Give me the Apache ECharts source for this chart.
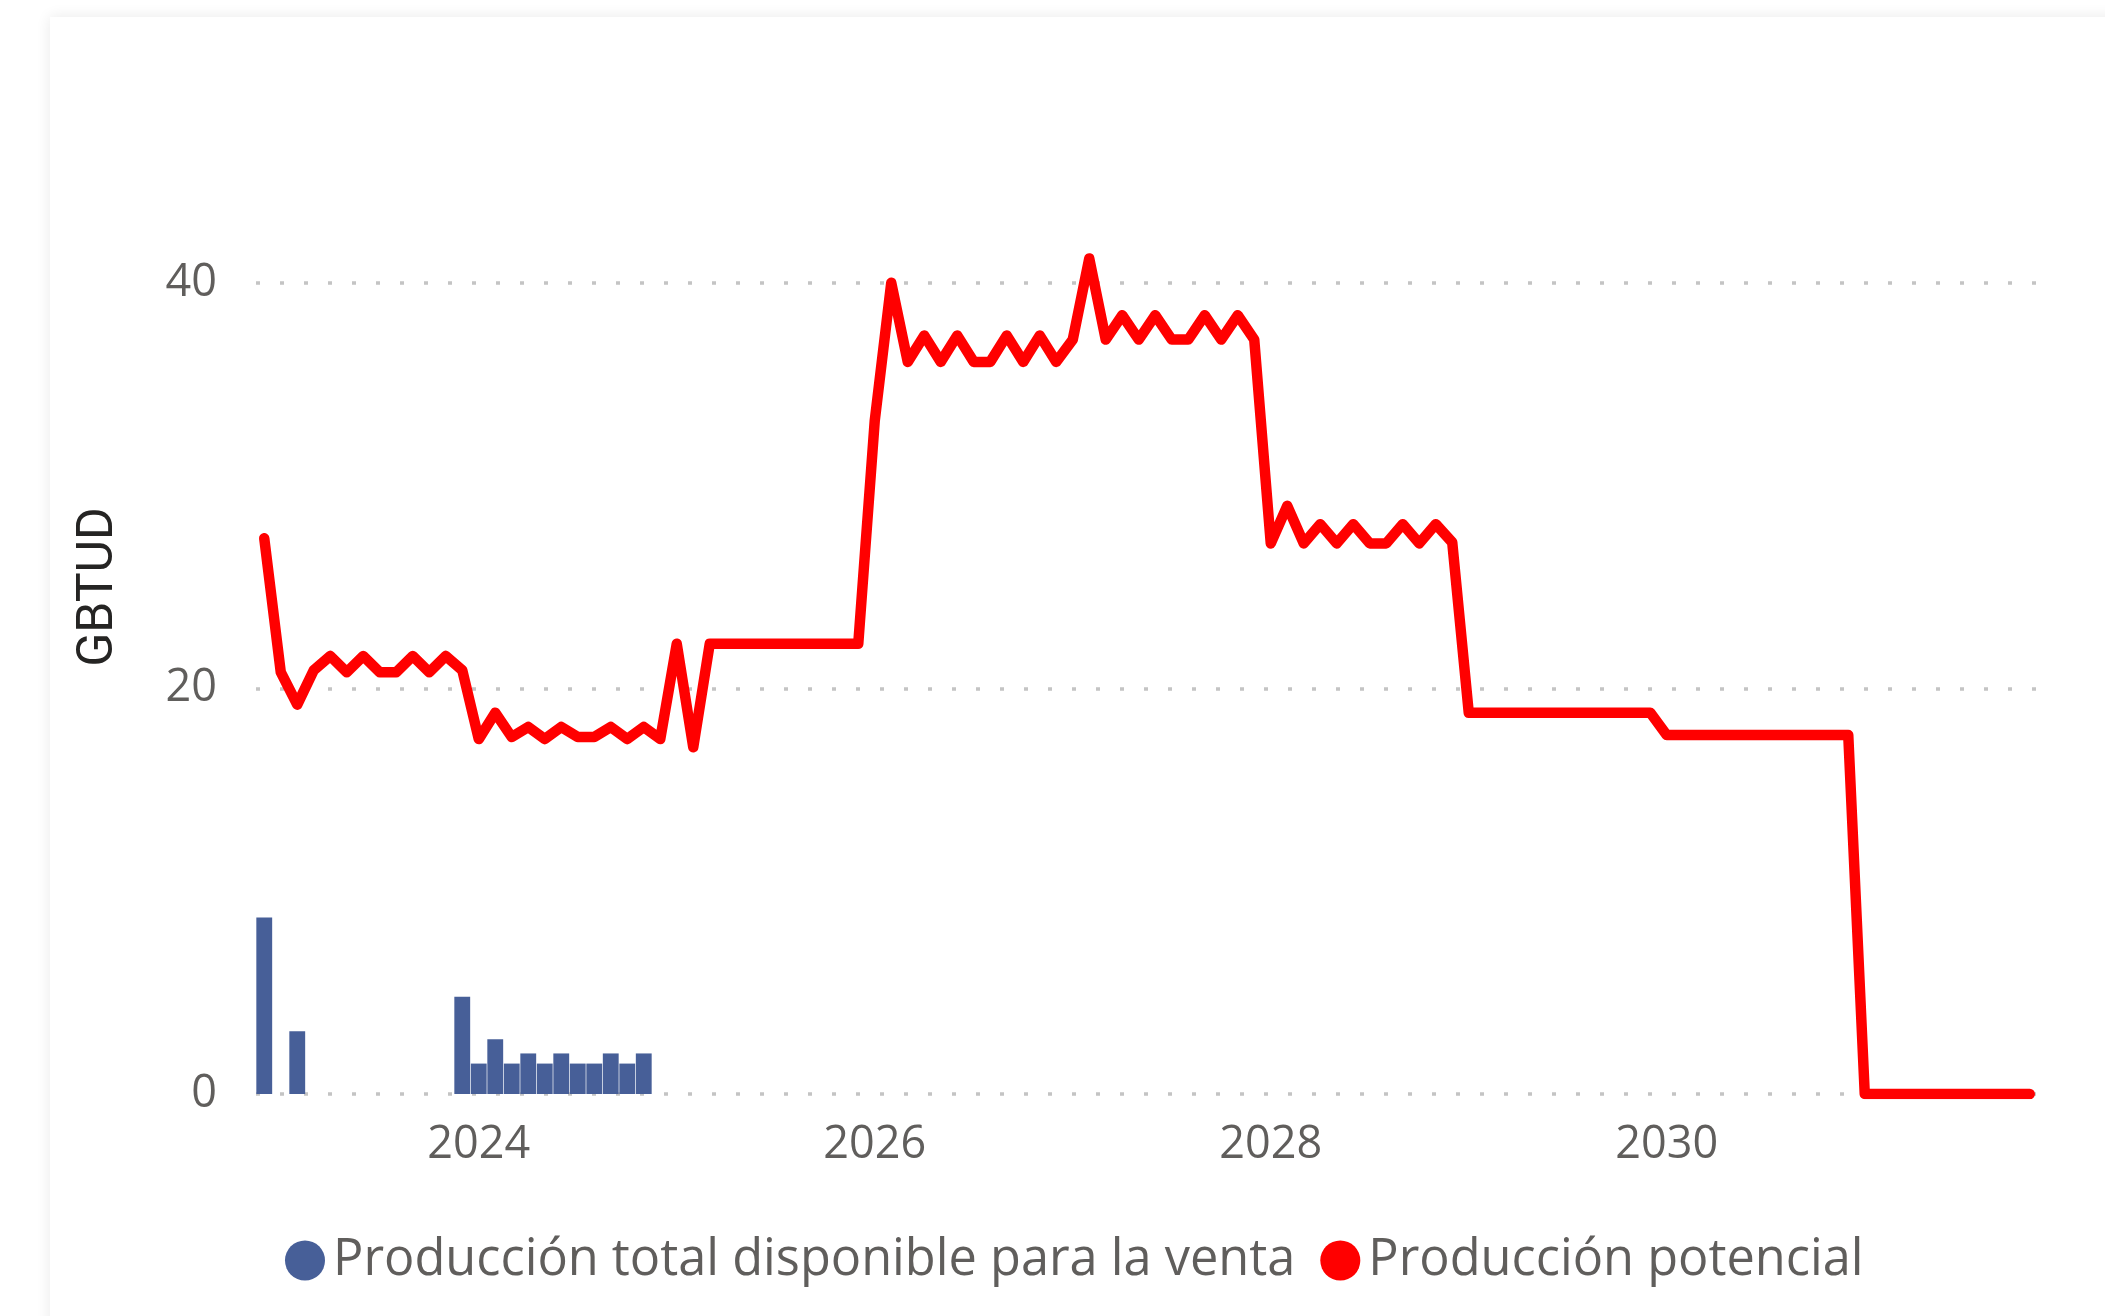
<!DOCTYPE html>
<html>
<head>
<meta charset="utf-8">
<title>Producción potencial</title>
<script src="https://cdn.jsdelivr.net/npm/echarts@6/dist/echarts.min.js"></script>
<style>
  html, body { margin: 0; padding: 0; width: 2105px; height: 1316px; background: #ffffff; overflow: hidden; }
  #card { position: absolute; left: 50px; top: 17px; width: 2080px; height: 1320px; background: #ffffff;
          box-shadow: 0 0 14px rgba(0,0,0,0.09); }
  #chart { position: absolute; left: 0; top: 0; width: 2105px; height: 1316px; }
</style>
</head>
<body>
<div id="card"></div>
<div id="chart"></div>
<script>
// Monthly series, Dec 2022 .. Nov 2031 (GBTUD)
const startYear = 2022, startMonth = 12, monthCount = 108;
const yearTicks = ['2024', '2026', '2028', '2030'];
const yTickLabels = [0, 20, 40];

// Producción potencial, one value per month
const potencial = [
  27.4, 20.8, 19.2, 20.9, 21.6, 20.8, 21.6, 20.8, 20.8, 21.6, 20.8, 21.6, 20.9,
  17.5, 18.8, 17.6, 18.1, 17.5, 18.1, 17.6, 17.6, 18.1, 17.5, 18.1, 17.5,
  22.2, 17.1, 22.2, 22.2, 22.2, 22.2, 22.2, 22.2, 22.2, 22.2, 22.2, 22.2,
  33.2, 40.0, 36.1, 37.4, 36.1, 37.4, 36.1, 36.1, 37.4, 36.1, 37.4, 36.1,
  37.2, 41.2, 37.2, 38.4, 37.2, 38.4, 37.2, 37.2, 38.4, 37.2, 38.4, 37.2,
  27.15, 29.0, 27.15, 28.1, 27.15, 28.1, 27.15, 27.15, 28.1, 27.15, 28.1, 27.2,
  18.8, 18.8, 18.8, 18.8, 18.8, 18.8, 18.8, 18.8, 18.8, 18.8, 18.8, 18.8,
  17.7, 17.7, 17.7, 17.7, 17.7, 17.7, 17.7, 17.7, 17.7, 17.7, 17.7, 17.7,
  0, 0, 0, 0, 0, 0, 0, 0, 0, 0, 0
];

// Producción total disponible para la venta, Dec 2022 .. Nov 2024
const ventaTotal = [
  8.7, null, 3.1, null, null, null, null, null, null, null, null, null,
  4.8, 1.5, 2.7, 1.5, 2.0, 1.5, 2.0, 1.5, 1.5, 2.0, 1.5, 2.0
];

const seriesNames = ['Producción total disponible para la venta', 'Producción potencial'];

// month categories "YYYY-MM"
const months = [];
for (let i = 0; i < monthCount; i++) {
  const m0 = startMonth - 1 + i;
  const y = startYear + Math.floor(m0 / 12);
  const m = (m0 % 12) + 1;
  months.push(y + '-' + (m < 10 ? '0' + m : m));
}
const ventaData = months.map((_, i) => (i < ventaTotal.length ? ventaTotal[i] : null));

const gray = '#605e5c';
const font = '"Segoe UI", "Open Sans", sans-serif';

const chart = echarts.init(document.getElementById('chart'), null, { renderer: 'canvas' });
chart.setOption({
  animation: false,
  backgroundColor: 'transparent',
  grid: { left: 256, right: 67, top: 80, bottom: 222 },
  legend: {
    data: seriesNames,
    icon: 'circle',
    left: 280,
    top: 1230,
    itemWidth: 40,
    itemHeight: 40,
    itemGap: 25,
    textStyle: { fontSize: 50.5, color: gray, fontFamily: font, padding: [0, 0, 0, 3] }
  },
  xAxis: {
    type: 'category',
    data: months,
    boundaryGap: true,
    axisLine: { show: false },
    axisTick: { show: false },
    splitLine: { show: false },
    axisLabel: {
      interval: function (idx, val) {
        return val.slice(5) === '01' && yearTicks.indexOf(val.slice(0, 4)) >= 0;
      },
      formatter: function (val) { return val.slice(0, 4); },
      fontSize: 45,
      color: gray,
      fontFamily: font,
      margin: 29
    }
  },
  yAxis: {
    type: 'value',
    min: 0,
    max: 50,
    interval: 10,
    name: 'GBTUD',
    nameLocation: 'middle',
    nameRotate: 90,
    nameGap: 132,
    nameTextStyle: { fontSize: 50, color: '#252423', fontFamily: 'Roboto, sans-serif' },
    axisLine: { show: false },
    axisTick: { show: false },
    axisLabel: {
      formatter: function (v) { return yTickLabels.indexOf(v) >= 0 ? String(v) : ''; },
      fontSize: 45,
      color: gray,
      fontFamily: font,
      lineHeight: 45,
      padding: [9, 0, 0, 0],
      margin: 39
    },
    splitLine: {
      show: true,
      lineStyle: { color: ['#c4c4c4', 'rgba(0,0,0,0)'], width: 3.5, type: [4, 20] }
    }
  },
  series: [
    {
      name: seriesNames[0],
      type: 'bar',
      data: ventaData,
      barCategoryGap: '4%',
      itemStyle: { color: '#475f98' },
      z: 2
    },
    {
      name: seriesNames[1],
      type: 'line',
      data: potencial,
      symbol: 'none',
      lineStyle: { color: '#ff0000', width: 10.5, join: 'round', cap: 'round' },
      itemStyle: { color: '#ff0000' },
      z: 3
    }
  ]
});
</script>
</body>
</html>
